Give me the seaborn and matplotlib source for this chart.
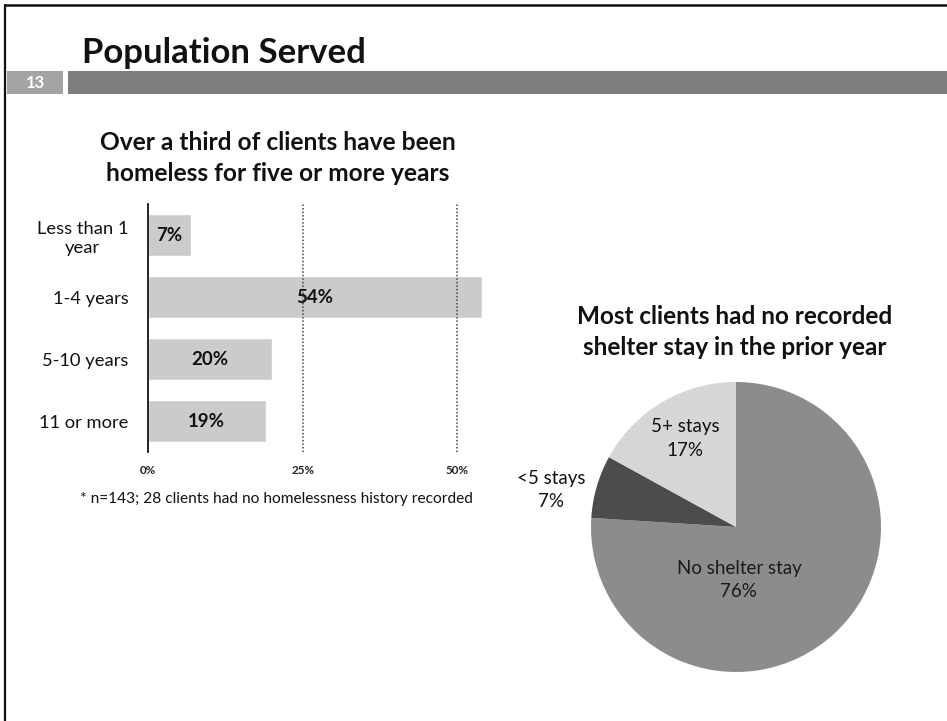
import matplotlib
matplotlib.use("Agg")
import matplotlib.pyplot as plt
import seaborn as sns
import pandas as pd
from matplotlib.lines import Line2D
from matplotlib.patches import Rectangle

# ---------------- data ----------------
categories = ["Less than 1\nyear", "1-4 years", "5-10 years", "11 or more"]
values = [7, 54, 20, 19]
bar_labels = ["7%", "54%", "20%", "19%"]
xticks = [0, 25, 50]
xtick_labels = ["0%", "25%", "50%"]

pie_labels = ["No shelter stay", "<5 stays", "5+ stays"]
pie_values = [76, 7, 17]
pie_pct = ["76%", "7%", "17%"]

# ---------------- style ----------------
sns.set_theme(style="white")
plt.rcParams["font.family"] = ["Lato", "DejaVu Sans"]

W, H = 947, 721
fig = plt.figure(figsize=(W / 100, H / 100), dpi=100)
renderer = fig.canvas.get_renderer()


def fx(x):
    return x / W


def fy(y):
    return 1 - y / H


def fit_size(text, target_px, weight="normal"):
    t = fig.text(0, 0, text, size=10, weight=weight)
    w = t.get_window_extent(renderer).width
    t.remove()
    return 10 * target_px / w


# slide frame
fig.add_artist(Line2D([fx(5), fx(5)], [0, fy(5)], color="#111", lw=1.6))
fig.add_artist(Line2D([fx(5), fx(947)], [fy(5), fy(5)], color="#111", lw=1.8))

# header
s = fit_size("Population Served", 285, "bold")
fig.text(fx(82), fy(63), "Population Served", size=s, weight="bold",
         color="#111", va="baseline", ha="left")
fig.add_artist(Rectangle((fx(7), fy(94)), (63 - 7) / W, 23 / H,
                         transform=fig.transFigure, color="#a4a4a4", lw=0))
fig.text(fx(35), fy(82.5), "13", size=12, weight="bold", color="white",
         ha="center", va="center")
fig.add_artist(Rectangle((fx(68), fy(94)), (947 - 68) / W, 23 / H,
                         transform=fig.transFigure, color="#7e7e7e", lw=0))

# ---------------- bar chart ----------------
df = pd.DataFrame({"category": categories, "value": values})
ax = fig.add_axes([fx(148), fy(452), (490 - 148) / W, (452 - 204) / H])
sns.barplot(data=df, x="value", y="category", orient="h", color="#cbcbcb",
            saturation=1, width=0.68, errorbar=None, ax=ax)
ax.set_xlim(0, 55.3)
ax.set_xticks(xticks)
ax.set_xticklabels(xtick_labels)
ax.set_xlabel("")
ax.set_ylabel("")
for sp in ["top", "right", "bottom"]:
    ax.spines[sp].set_visible(False)
ax.spines["left"].set_color("#111")
ax.spines["left"].set_linewidth(1.3)
ax.xaxis.grid(True, linestyle=(0, (1, 1.3)), color="#444", lw=1.1)
ax.set_axisbelow(False)
xs = fit_size("25%", 23, "bold")
ax.tick_params(axis="x", length=0, pad=9, labelsize=xs, colors="#222")
for lab in ax.get_xticklabels():
    lab.set_fontweight("bold")
ys = fit_size("1-4 years", 76)
ax.tick_params(axis="y", length=0, pad=14, labelsize=ys, colors="#111")
for lab in ax.get_yticklabels():
    lab.set_horizontalalignment("right")
    lab.set_multialignment("center")
    lab.set_linespacing(1.3)
bs = fit_size("54%", 37, "bold")
ax.bar_label(ax.containers[0], labels=bar_labels, label_type="center",
             size=bs, weight="bold", color="#111")
for gl, xv in zip(ax.xaxis.get_gridlines(), xticks):
    if xv == 0:
        gl.set_visible(False)

ts = fit_size("Over a third of clients have been", 356, "bold")
fig.text(fx(278), fy(158), "Over a third of clients have been\nhomeless for five or more years",
         size=ts, weight="bold", ha="center", va="center", color="#111",
         linespacing=1.4)
fs = fit_size("* n=143; 28 clients had no homelessness history recorded", 395)
fig.text(fx(80), fy(499), "* n=143; 28 clients had no homelessness history recorded",
         size=fs, ha="left", va="center", color="#111")

# ---------------- pie chart ----------------
cx, cy, r = 736, 527, 145
pax = fig.add_axes([fx(cx - r), fy(cy + r), 2 * r / W, 2 * r / H])
pax.pie(pie_values, colors=["#8c8c8c", "#4c4c4c", "#d6d6d6"], startangle=90,
        counterclock=False, wedgeprops=dict(linewidth=0))
pax.set_xlim(-1, 1)
pax.set_ylim(-1, 1)
pax.set_aspect("equal")

ps = fit_size("No shelter stay", 125)
pax.text(0.02, -0.366, f"{pie_labels[0]}\n{pie_pct[0]}", ha="center", va="center",
         size=ps, color="#1a1a1a", linespacing=1.45)
pax.text(-1.276, 0.255, f"{pie_labels[1]}\n{pie_pct[1]}", ha="center", va="center",
         size=ps, color="#111", linespacing=1.45, clip_on=False)
pax.text(-0.35, 0.61, f"{pie_labels[2]}\n{pie_pct[2]}", ha="center", va="center",
         size=ps, color="#111", linespacing=1.45)

pts = fit_size("Most clients had no recorded", 316, "bold")
fig.text(fx(735), fy(332), "Most clients had no recorded\nshelter stay in the prior year",
         size=pts, weight="bold", ha="center", va="center", color="#111",
         linespacing=1.45)

fig.savefig("out.png", dpi=100, facecolor="white")
